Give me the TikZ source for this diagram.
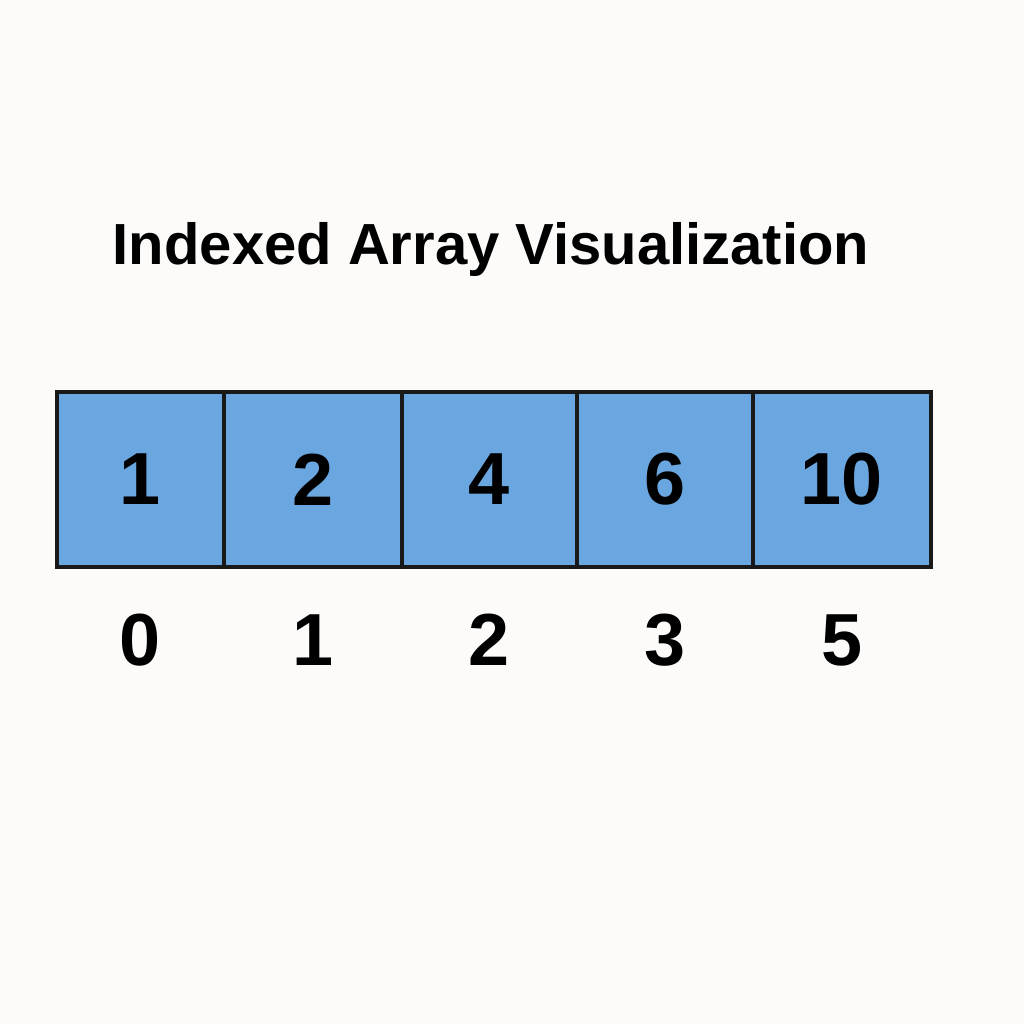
\documentclass[tikz,border=0pt]{standalone}
\usepackage{fontspec}
\setmainfont{Liberation Sans}
\usetikzlibrary{positioning}
\definecolor{bg}{HTML}{FCFBF9}
\definecolor{cellblue}{HTML}{6AA6E0}
\tikzset{
 cell/.style={draw=black!90,line width=1.3pt,fill=cellblue,minimum height=1.75cm,
   inner sep=0pt,font=\fontsize{21}{24}\selectfont\bfseries},
 index/.style={font=\fontsize{21}{24}\selectfont\bfseries}
}
\begin{document}
\begin{tikzpicture}
\path[fill=bg,use as bounding box] (0,0) rectangle (10.24,10.24);
\path (4.91,7.74) node[name=title,font=\fontsize{16.5}{20}\selectfont\bfseries] {Indexed Array Visualization};

\foreach \x/\w/\v/\i/\n in {1.405/1.67/1/0/a,3.13/1.78/2/1/b,4.895/1.75/4/2/c,6.65/1.76/6/3/d,8.42/1.78/10/5/e}{
  \path (\x,5.445) node[cell,minimum width=\w cm,name=cell\n] {\v};
  \path (\x,3.84) node[index,name=idx\n] {\i};
}
\end{tikzpicture}
\end{document}
